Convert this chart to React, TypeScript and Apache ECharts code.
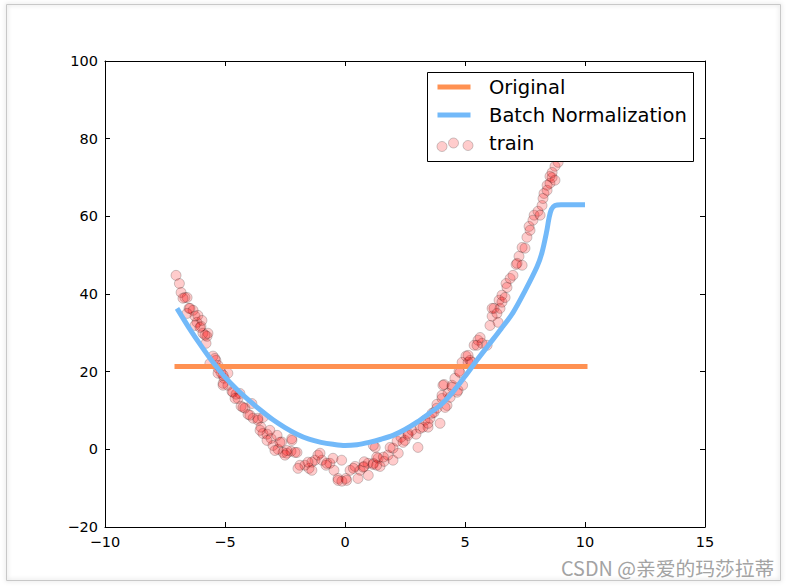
import React, { useEffect, useRef } from "react";
import * as echarts from "echarts";

// Scatter "train" points
const trainX = [
  -7.04, -6.9, -6.83, -6.67, -6.5, -6.33, -6.25, -6.17, -6.0, -5.92, -5.75, -5.79, -5.5, -5.38, -5.29, -5.17, -5.04, -5.08, -4.88, -4.71,
  -4.54, -4.46, -4.33, -4.17, -4.04, -3.83, -3.63, -3.5, -3.42, -3.25, -3.08, -3.0, -2.79, -2.58, -2.42, -2.25, -2.08, -1.88, -1.67, -1.5,
  -1.38, -1.25, -1.13, -0.96, -0.79, -0.63, -0.46, -0.29, -0.13, 0.04, 0.21, 0.42, 0.63, 0.79, 0.96, 1.17, 1.38, 1.46, 1.63, 1.79,
  2.0, 2.17, 2.33, 2.5, 2.63, 2.79, 2.96, 3.13, 3.33, 3.46, 3.54, 3.71, 3.83, 4.04, 4.13, 4.29, 4.46, 4.58, 4.75, 4.88,
  5.04, 5.13, 5.38, 5.54, 5.71, 5.92, 6.04, 6.13, 6.21, 6.42, 6.54, 6.71, 6.88, 7.0, 7.13, 7.25, 7.38, 7.58, 7.67, 7.88,
  8.04, 8.21, 8.29, 8.42, 8.54, 8.75, 8.88,
  -2.22, -2.5, -2.64, -1.54, -1.38, -1.04, -0.76, -0.5, -0.14, -0.29, 0.07, 0.35, 0.54, 0.76, 0.97, 1.18, 1.26, 1.32,
  0.8, 1.18, 1.32, 1.6, 1.88, 2.0, 2.22, 2.42, 2.63, 3.04, 3.25, 3.46, 3.63, 3.83, 3.96, 4.04, 4.25, 4.46, 4.67,
  -5.63, -5.29, -4.88, -5.08, -4.67, -4.38, -4.58, -4.25, -3.88, -3.96, -3.63, -3.42, -3.54, -3.13, -3.25, -2.83, -2.71, -2.92, -2.42, -2.21, -2.0, -1.96,
  -6.58, -6.75, -6.46, -6.58, -6.13, -5.96, -6.25, -6.04, -5.71, -5.83, -5.42, -5.29, -5.08,
  4.08, 4.38, 4.17, 4.71, 4.9, 4.79, 5.21, 5.13, 5.29, 5.5, 5.63, 6.13, 6.33, 6.38, 6.46, 6.54, 6.67,
  6.75, 7.17, 7.38, 7.5, 7.71, 7.83, 8.13, 8.25, 8.42, 8.54, 8.63, 8.75, 8.63,
];
const trainY = [
  44.8, 42.7, 40.4, 39.1, 36.3, 35.8, 34.3, 32.7, 31.7, 29.9, 29.1, 27.3, 24.0, 22.9, 20.9, 19.8, 18.3, 17.0, 16.5, 14.9,
  14.2, 13.1, 11.1, 10.6, 9.0, 8.0, 7.5, 5.7, 4.1, 3.9, 2.8, 1.0, 0.0, -0.8, -1.0, -0.5, -0.8, -4.1, -4.1, -4.9,
  -3.3, -2.8, -1.5, -2.8, -4.1, -3.6, -5.4, -7.5, -8.2, -7.5, -5.4, -4.4, -5.4, -4.4, -3.6, -3.9, -2.3, -4.4, -3.1, -1.5,
  0.3, 2.1, 3.1, 2.3, 4.1, 4.9, 3.9, 5.4, 7.5, 5.7, 8.0, 9.5, 11.6, 13.1, 16.7, 14.4, 16.5, 18.3, 20.1, 22.4,
  24.0, 22.4, 26.8, 28.1, 27.3, 26.8, 31.9, 34.3, 36.3, 38.4, 39.7, 42.7, 44.0, 44.8, 47.6, 49.7, 52.0, 54.6, 57.4, 60.3,
  61.3, 62.8, 65.9, 68.0, 70.3, 72.9, 73.9,
  2.75, -1.5, 1.9, -3.3, -5.4, -1.0, -3.6, -2.3, -2.8, -8.0, -8.0, -4.9, -7.5, -4.6, -6.7, -3.6, 0.5, -2.0,
  -3.2, 1.0, -4.1, -2.0, 0.5, -2.8, -1.0, 1.8, 3.6, 0.5, 5.7, 6.7, 9.3, 10.6, 6.7, 13.9, 11.3, 16.0, 14.7,
  22.1, 19.6, 19.6, 16.5, 14.7, 14.4, 13.1, 10.8, 11.8, 8.8, 8.0, 8.2, 4.9, 4.9, 2.3, 3.6, 1.8, -0.3, -0.3, 2.3, -0.8, -4.9,
  39.1, 38.9, 36.3, 35.0, 34.5, 33.2, 31.9, 31.4, 29.9, 29.4, 23.4, 21.6, 19.1,
  16.5, 13.4, 10.8, 15.2, 16.5, 19.8, 22.9, 24.2, 22.4, 26.8, 28.8, 36.3, 35.0, 32.7, 36.3, 37.9, 39.1,
  41.7, 47.9, 47.4, 51.8, 56.4, 59.0, 60.3, 64.6, 66.7, 68.5, 70.0, 69.3, 71.3,
];

// "Batch Normalization" curve
const bnX = [-7.0, -6.5, -6.0, -5.5, -5.0, -4.5, -4.0, -3.5, -3.0, -2.5, -2.0, -1.5, -1.0, -0.5, 0, 0.5, 1.0, 1.5, 2.0, 2.5, 3.0, 3.5, 4.0, 4.5, 5.0, 5.5, 6.0, 6.5, 7.0, 7.5, 8.0, 8.2, 8.4, 8.5, 8.6, 8.75, 9.0, 10.0];
const bnY = [36.3, 31.3, 26.7, 22.4, 18.6, 15.4, 12.6, 10.0, 7.6, 5.6, 3.9, 2.6, 1.8, 1.3, 1.0, 1.2, 1.8, 2.6, 3.6, 5.1, 7.0, 9.2, 11.5, 14.8, 18.8, 23.0, 27.0, 31.0, 35.2, 40.8, 47.0, 50.5, 56.0, 59.5, 61.8, 62.8, 63.0, 63.0];

// "Original" line
const origX = [-7.0, 10.0];
const origY = [21.3, 21.3];

const xTicks = [-10, -5, 0, 5, 10, 15];
const yTicks = [-20, 0, 20, 40, 60, 80, 100];

const seriesNames = ["Original", "Batch Normalization", "train"];

const ORANGE = "#ff9152";
const BLUE = "#72b9f9";
const FONT = "DejaVu Sans";

const fmt = (v: number) => String(v).replace("-", "\u2212");

export default function App() {
  const ref = useRef<HTMLDivElement>(null);
  useEffect(() => {
    if (!ref.current) return;
    const chart = echarts.init(ref.current, null, { renderer: "svg" });
    const gl = 105, gt = 61, gw = 600, gh = 466;
    const axisCommon = {
      type: "value" as const,
      splitLine: { show: false },
      axisLine: { show: true, onZero: false, lineStyle: { color: "#000", width: 1 } },
      axisTick: { show: true, inside: true, length: 5, lineStyle: { color: "#000" } },
    };
    const legendX = 427.5, legendY = 72.5, legendW = 266, legendH = 89;
    const legendFont = `19.5px '${FONT}'`;
    const dot = { fill: "rgba(255,0,0,0.2)", stroke: "rgba(0,0,0,0.2)", lineWidth: 1 };
    chart.setOption({
      animation: false,
      backgroundColor: "#fff",
      grid: { left: gl, top: gt, width: gw, height: gh, containLabel: false },
      xAxis: [
        {
          ...axisCommon,
          min: xTicks[0], max: xTicks[xTicks.length - 1], interval: 5, position: "bottom",
          axisLabel: { color: "#000", fontSize: 14.5, fontFamily: FONT, margin: 7, formatter: fmt },
        },
        {
          ...axisCommon,
          min: xTicks[0], max: xTicks[xTicks.length - 1], interval: 5, position: "top",
          axisLabel: { show: false },
        },
      ],
      yAxis: [
        {
          ...axisCommon,
          min: yTicks[0], max: yTicks[yTicks.length - 1], interval: 20, position: "left",
          axisLabel: { color: "#000", fontSize: 14.5, fontFamily: FONT, margin: 7, formatter: fmt },
        },
        {
          ...axisCommon,
          min: yTicks[0], max: yTicks[yTicks.length - 1], interval: 20, position: "right",
          axisLabel: { show: false },
        },
      ],
      series: [
        {
          name: seriesNames[2],
          type: "scatter",
          xAxisIndex: 0, yAxisIndex: 0,
          symbol: "circle",
          symbolSize: 10,
          z: 1,
          itemStyle: { color: "rgba(255,0,0,0.2)", borderColor: "rgba(0,0,0,0.2)", borderWidth: 1, opacity: 1 },
          data: trainX.map((x, i) => [x, trainY[i]]),
        },
        {
          name: seriesNames[0],
          type: "line",
          xAxisIndex: 0, yAxisIndex: 0,
          showSymbol: false,
          z: 3,
          lineStyle: { color: ORANGE, width: 5, cap: "square" },
          itemStyle: { color: ORANGE },
          data: origX.map((x, i) => [x, origY[i]]),
        },
        {
          name: seriesNames[1],
          type: "line",
          xAxisIndex: 0, yAxisIndex: 0,
          showSymbol: false,
          smooth: 0.3,
          z: 4,
          lineStyle: { color: BLUE, width: 5, cap: "butt" },
          itemStyle: { color: BLUE },
          data: bnX.map((x, i) => [x, bnY[i]]),
        },
      ],
      graphic: [
        {
          type: "rect",
          z: 0,
          silent: true,
          shape: { x: 6.5, y: 4.5, width: 774, height: 576 },
          style: { fill: "none", stroke: "#c8c8c8", lineWidth: 1, shadowBlur: 4, shadowColor: "rgba(0,0,0,0.25)" },
        },
        {
          type: "rect", z: 100,
          shape: { x: legendX, y: legendY, width: legendW, height: legendH },
          style: { fill: "#fff", stroke: "#000", lineWidth: 1 },
        },
        { type: "line", z: 101, shape: { x1: 440, y1: 87, x2: 468, y2: 87 }, style: { stroke: ORANGE, lineWidth: 5, lineCap: "square" } },
        { type: "line", z: 101, shape: { x1: 440, y1: 115, x2: 468, y2: 115 }, style: { stroke: BLUE, lineWidth: 5, lineCap: "square" } },
        { type: "circle", z: 101, shape: { cx: 442, cy: 146.5, r: 5 }, style: dot },
        { type: "circle", z: 101, shape: { cx: 453.5, cy: 143, r: 5 }, style: dot },
        { type: "circle", z: 101, shape: { cx: 468, cy: 145.5, r: 5 }, style: dot },
        { type: "text", z: 101, x: 489, y: 87, style: { text: seriesNames[0], fill: "#000", font: legendFont, verticalAlign: "middle" } },
        { type: "text", z: 101, x: 489, y: 115, style: { text: seriesNames[1], fill: "#000", font: legendFont, verticalAlign: "middle" } },
        { type: "text", z: 101, x: 489, y: 143, style: { text: seriesNames[2], fill: "#000", font: legendFont, verticalAlign: "middle" } },
        {
          type: "text",
          z: 100,
          x: 561,
          y: 567,
          style: {
            text: "CSDN @亲爱的玛莎拉蒂",
            fill: "#a3a3a3",
            font: "19.8px 'Noto Sans CJK SC'",
            verticalAlign: "middle",
          },
        },
      ],
    });
    return () => chart.dispose();
  }, []);
  return (
    <div
      ref={ref}
      style={{ position: "fixed", left: 0, top: 0, width: 788, height: 586, background: "#fff" }}
    />
  );
}
